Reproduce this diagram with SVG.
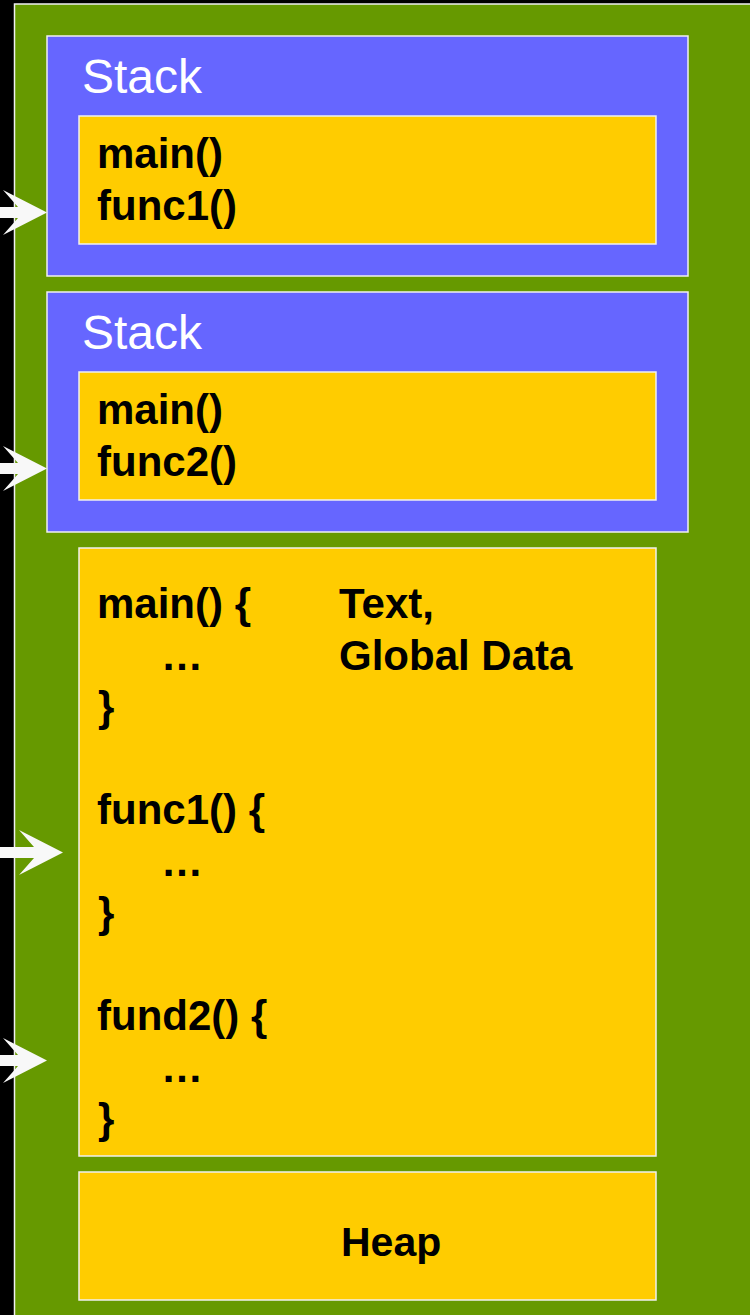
<svg xmlns="http://www.w3.org/2000/svg" width="750" height="1315" viewBox="0 0 750 1315">
  <defs>
    <style>
      .panel { fill: #669900; stroke: #F0F0F0; stroke-width: 1.5; }
      .stack { fill: #6666FF; stroke: #F0F0F0; stroke-width: 1.5; }
      .seg { fill: #FFCC00; stroke: #F0F0F0; stroke-width: 1.5; }
      .title { font-family: "Liberation Sans", Arial, sans-serif; font-size: 48px; fill: #FFFFFF; }
      .code { font-family: "Liberation Sans", Arial, sans-serif; font-size: 42px; font-weight: bold; fill: #000000; }
      .ptr { fill: #F8F8F8; }
    </style>
    <!-- block arrow with notched head, tip at the origin -->
    <path id="ptr" d="M-70,-5.5 L-29,-5.5 L-44,-22.5 L0,0 L-44,22.5 L-29,5.5 L-70,5.5 Z"/>
  </defs>

  <rect x="0" y="0" width="750" height="1315" fill="#000000"/>
  <rect class="panel" x="14.5" y="4" width="740" height="1320"/>

  <g id="stack1">
    <rect class="stack" x="47" y="36" width="641" height="240"/>
    <text class="title" x="82" y="93">Stack</text>
    <rect class="seg" x="79" y="116" width="577" height="128"/>
    <text class="code" x="97" y="168">main()</text>
    <text class="code" x="97" y="220">func1()</text>
  </g>

  <g id="stack2">
    <rect class="stack" x="47" y="292" width="641" height="240"/>
    <text class="title" x="82" y="349">Stack</text>
    <rect class="seg" x="79" y="372" width="577" height="128"/>
    <text class="code" x="97" y="424">main()</text>
    <text class="code" x="97" y="476">func2()</text>
  </g>

  <g id="text-data">
    <rect class="seg" x="79" y="548" width="577" height="608"/>
    <text class="code" x="97" y="618">main() {</text>
    <text class="code" x="339" y="618">Text,</text>
    <text class="code" x="161" y="670">…</text>
    <text class="code" x="339" y="670">Global Data</text>
    <text class="code" x="98" y="721">}</text>
    <text class="code" x="97" y="824">func1() {</text>
    <text class="code" x="161" y="876">…</text>
    <text class="code" x="98" y="927">}</text>
    <text class="code" x="97" y="1030">fund2() {</text>
    <text class="code" x="161" y="1082">…</text>
    <text class="code" x="98" y="1133">}</text>
  </g>

  <g id="heap">
    <rect class="seg" x="79" y="1172" width="577" height="128"/>
    <text class="code" x="341" y="1256" style="font-size:41px">Heap</text>
  </g>

  <g id="connectors">
    <use href="#ptr" class="ptr" x="47" y="212.5"/>
    <use href="#ptr" class="ptr" x="47" y="468.5"/>
    <use href="#ptr" class="ptr" x="63" y="852.5"/>
    <use href="#ptr" class="ptr" x="47" y="1060.5"/>
  </g>
</svg>
